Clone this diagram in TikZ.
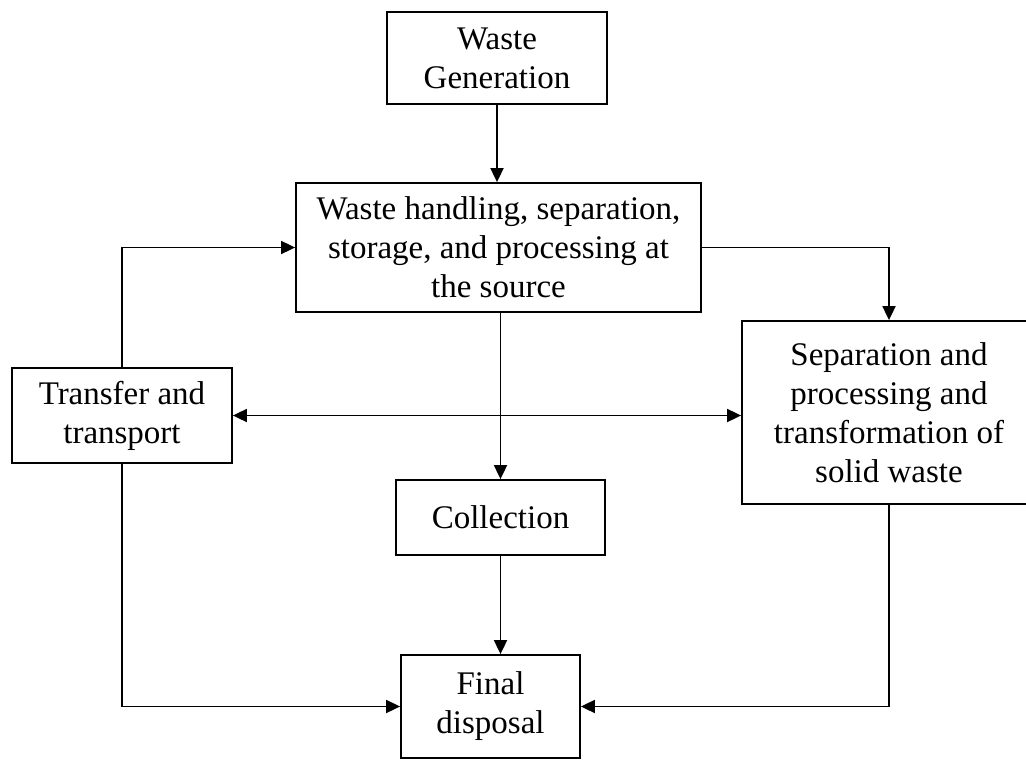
\documentclass[tikz,border=0pt]{standalone}
\usepackage{fontspec}
\setmainfont{Liberation Serif}
\usetikzlibrary{arrows.meta}
\begin{document}
\begin{tikzpicture}[x=1pt,y=-1pt,
  box/.style={draw, line width=1.8pt, inner sep=0pt, align=center,
    font=\fontsize{33}{39}\selectfont},
  arr/.style={line width=1.8pt, -{Triangle[length=14pt,width=13pt]}},
  darr/.style={line width=1.8pt, {Triangle[length=14pt,width=13pt]}-{Triangle[length=14pt,width=13pt]}}]
\clip (0,0) rectangle (1026,760);
\fill[white] (0,0) rectangle (1026,760);
\node[box, minimum width=220pt, minimum height=92pt] (wg) at (497,58) {Waste\\Generation};
\node[box, minimum width=405pt, minimum height=129pt] (hand) at (498.5,247.5) {Waste handling, separation,\\storage, and processing at\\the source};
\node[box, minimum width=220pt, minimum height=95pt] (tr) at (122,415.5) {Transfer and\\transport};
\node[box, minimum width=294pt, minimum height=183pt] (sep) at (889,412.5) {Separation and\\processing and\\transformation of\\solid waste};
\node[box, minimum width=209pt, minimum height=75pt] (coll) at (500.5,517.5) {Collection};
\node[box, minimum width=179pt, minimum height=103pt] (fin) at (490.5,706.5) {Final\\disposal};
\draw[arr] (wg.south) -- (wg.south |- hand.north);
\draw[arr] (hand.east) -| (sep.north);
\draw[arr] (tr.north) |- (hand.west);
\draw[arr] (coll.north |- hand.south) -- (coll.north);
\draw[darr] (tr.east) -- (sep.west |- tr.east);
\draw[arr] (coll.south) -- (coll.south |- fin.north);
\draw[arr] (tr.south) |- (fin.west);
\draw[arr] (sep.south) |- (fin.east);
\end{tikzpicture}
\end{document}
